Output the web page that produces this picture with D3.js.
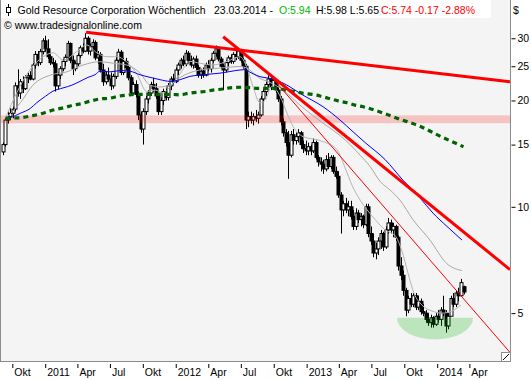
<!DOCTYPE html>
<html><head><meta charset="utf-8">
<script src="https://cdn.jsdelivr.net/npm/d3@7"></script>
<style>body{margin:0;background:#fff}svg{display:block}</style>
</head><body><svg id="c" width="531" height="380"></svg>
<script>
// ---- DATA ----
const firstWeek = "2010-09-06";
const opens = [14.3,15.0,17.6,18.0,18.4,18.9,22.0,21.0,22.6,21.6,23.2,23.5,23.0,25.2,27.0,25.6,27.5,29.5,28.0,26.6,
25.6,25.4,22.0,23.6,24.6,25.8,26.5,29.0,26.0,24.6,25.4,26.8,28.2,27.6,30.0,27.6,28.4,29.2,26.4,27.0,
24.4,22.6,23.6,23.0,22.0,23.4,26.0,27.4,24.0,25.8,24.8,23.2,21.0,22.2,20.8,18.2,16.6,18.6,20.2,21.0,
22.2,21.6,20.6,18.6,20.0,21.2,20.4,22.0,23.0,22.6,24.4,25.2,26.0,25.4,27.2,26.0,25.2,26.2,24.8,23.6,
24.2,23.6,25.2,24.6,26.0,27.2,28.0,26.2,25.0,24.4,25.6,26.4,25.8,27.0,26.6,27.6,26.0,25.0,17.6,18.0,
17.6,18.0,17.8,18.2,20.2,21.2,22.2,23.0,21.8,22.8,21.4,20.2,17.4,16.2,15.2,14.0,16.0,15.4,15.8,16.2,
15.0,14.6,14.4,14.8,14.4,15.2,13.8,13.4,13.2,12.8,13.6,13.0,13.8,12.6,12.2,10.8,9.8,10.2,9.8,10.0,
9.4,8.8,9.6,9.2,9.4,8.9,10.0,8.4,8.0,7.4,7.6,8.0,8.4,7.7,8.6,9.0,8.6,8.8,8.2,6.8,
6.4,5.8,5.1,5.5,5.3,5.6,5.2,5.4,5.05,5.0,4.8,4.7,4.85,4.65,4.9,4.8,5.1,5.0,4.6,4.9,
5.5,5.3,5.7,5.6,5.94];
const highs = [15.2,17.8,18.6,19.0,19.2,22.5,24.5,23.0,23.4,23.6,24.0,24.2,25.5,27.6,27.6,28.0,30.0,30.5,29.8,27.0,
26.4,26.0,24.0,25.0,26.2,27.0,29.5,29.2,26.8,25.8,27.2,28.6,29.0,31.0,30.4,29.0,29.8,29.6,27.6,27.4,
25.4,24.2,24.8,24.0,23.8,26.6,28.0,27.8,26.4,26.4,25.2,23.6,22.6,22.8,21.2,18.6,19.0,20.6,21.4,22.6,
23.2,22.4,21.0,20.4,21.6,21.6,22.4,23.4,23.8,24.8,25.6,26.4,26.8,27.8,27.6,26.8,26.6,26.8,25.2,24.6,
24.8,25.6,26.0,26.4,27.6,28.6,28.4,26.6,25.4,26.0,26.8,27.0,27.4,27.6,28.2,28.0,26.4,25.4,18.6,18.6,
18.4,18.8,18.6,20.6,21.6,22.6,23.6,23.4,23.2,23.0,21.8,20.6,17.8,16.6,16.4,16.4,16.6,16.2,16.6,16.4,
15.4,15.4,15.2,15.0,15.6,15.4,14.0,13.8,13.6,14.0,14.2,14.0,14.0,13.0,12.6,11.0,10.4,10.6,10.4,10.4,
9.8,9.9,9.8,9.6,9.5,10.2,10.2,8.8,8.4,7.9,8.2,8.6,8.5,8.8,9.3,9.2,9.0,8.9,8.3,7.2,
6.6,5.9,5.6,5.7,5.7,5.7,5.6,5.5,5.3,5.1,5.0,4.95,4.9,5.0,5.1,5.2,5.6,5.1,5.0,5.6,
5.7,5.8,5.9,6.25,5.98];
const lows = [14.0,14.8,17.2,17.6,17.8,18.6,20.5,20.2,21.0,21.4,22.4,22.8,22.8,24.6,25.0,25.2,27.0,27.5,26.2,25.2,
24.8,21.2,21.5,23.0,24.2,25.0,26.2,25.5,23.6,24.2,25.0,26.4,27.2,27.4,27.0,26.8,27.6,26.0,25.4,24.0,
22.0,22.2,22.6,21.4,21.6,23.0,25.6,23.6,23.6,24.4,22.8,20.6,20.8,20.4,17.6,16.2,15.0,18.2,19.6,20.6,
21.2,20.2,18.2,18.2,19.4,20.0,20.0,21.4,22.2,22.4,23.6,24.6,25.0,25.0,25.6,24.8,24.6,24.4,23.2,23.0,
23.2,23.4,24.2,24.0,25.6,26.6,25.8,24.6,21.4,24.0,25.0,25.4,25.4,26.0,26.2,25.6,24.6,16.6,16.8,17.2,
17.0,17.4,17.2,18.0,19.8,20.6,21.8,21.4,21.4,21.0,19.8,17.0,15.8,14.8,12.0,13.8,15.0,15.0,15.2,14.6,
14.2,14.0,14.0,14.0,14.2,13.6,13.0,12.6,12.4,12.6,12.8,12.8,12.4,12.0,10.6,8.4,9.4,9.6,9.4,9.2,
8.6,8.6,9.0,8.8,8.7,8.8,8.2,7.8,7.2,7.1,7.3,7.6,7.5,7.6,8.4,8.4,8.2,8.0,6.6,6.2,
5.6,4.9,5.0,5.2,5.2,5.1,5.1,4.95,4.9,4.7,4.6,4.55,4.55,4.6,4.7,4.6,4.9,4.4,4.5,4.9,
5.2,5.2,5.4,5.6,5.65];
const closes = [15.0,17.6,18.0,18.4,18.9,22.0,21.0,22.6,21.6,23.2,23.5,23.0,25.2,27.0,25.6,27.5,29.5,28.0,26.6,25.6,
25.4,22.0,23.6,24.6,25.8,26.5,29.0,26.0,24.6,25.4,26.8,28.2,27.6,30.0,27.6,28.4,29.2,26.4,27.0,24.4,
22.6,23.6,23.0,22.0,23.4,26.0,27.4,24.0,25.8,24.8,23.2,21.0,22.2,20.8,18.2,16.6,18.6,20.2,21.0,22.2,
21.6,20.6,18.6,20.0,21.2,20.4,22.0,23.0,22.6,24.4,25.2,26.0,25.4,27.2,26.0,25.2,26.2,24.8,23.6,24.2,
23.6,25.2,24.6,26.0,27.2,28.0,26.2,25.0,24.4,25.6,26.4,25.8,27.0,26.6,27.6,26.0,25.0,17.6,18.0,17.6,
18.0,17.8,18.2,20.2,21.2,22.2,23.0,21.8,22.8,21.4,20.2,17.4,16.2,15.2,14.0,16.0,15.4,15.8,16.2,15.0,
14.6,14.4,14.8,14.4,15.2,13.8,13.4,13.2,12.8,13.6,13.0,13.8,12.6,12.2,10.8,9.8,10.2,9.8,10.0,9.4,
8.8,9.6,9.2,9.4,8.9,10.0,8.4,8.0,7.4,7.6,8.0,8.4,7.7,8.6,9.0,8.6,8.8,8.2,6.8,6.4,
5.8,5.1,5.5,5.3,5.6,5.2,5.4,5.05,5.0,4.8,4.7,4.85,4.65,4.9,4.8,5.1,5.0,4.6,4.9,5.5,
5.3,5.7,5.6,6.1,5.74];

// moving averages: [week index, price]
const fastAvg = [[1,17.8],[5.5,21.0],[10.8,24.4],[16.1,26.6],[20.1,27.3],[24.1,26.0],[29.5,27.5],[33.5,28.7],[37.5,27.3],[41.5,26.6],[45.5,26.6],[49.5,25.7],[53.5,23.8],[57.5,21.2],[60.8,21.4],[64.1,21.0],[66.8,21.9],[70.8,23.8],[74.7,25.8],[78.7,25.5],[83.9,25.2],[90.7,26.0],[94.7,26.6],[97.4,24.9],[99.9,21.9],[102.7,19.7],[104.7,20.0],[107.4,21.9],[110.7,20.6],[113.5,18.4],[115.9,16.9],[119.9,15.8],[126.7,15.4],[133.5,14.5],[136.7,12.9],[139.5,11.5],[142.7,10.45],[145.5,9.8],[148.7,9.2],[152.7,8.6],[156.6,8.3],[159.4,7.5],[161.8,6.5],[164.2,5.7],[167.4,5.27],[171.4,5.07],[175.4,5.0],[179.4,5.07],[183,5.27]];
const slowAvg = [[1,17.8],[7,19.7],[12,22.1],[19,23.6],[25.5,24.1],[32,25.2],[38.8,25.75],[44,25.5],[49.5,25.2],[54.8,23.9],[58.8,22.1],[62.8,21.85],[66.8,22.1],[70.7,23.2],[78.7,24.4],[86.7,24.7],[94.7,24.95],[97.4,24.7],[102.7,23.1],[106.7,22.5],[110.7,21.7],[114.7,20.6],[118.7,19.4],[122.7,18.4],[126.7,17.5],[130.7,16.7],[134.7,15.9],[138.7,15.0],[142.7,14.0],[146.7,13.0],[150.7,11.8],[154.7,11.15],[158.6,10.45],[163.8,9.2],[170.6,8.05],[177.4,6.9],[183.4,6.6]];
const blueAvg = [[1,17.8],[3,17.9],[7,18.4],[11,19.0],[13.5,19.7],[17,20.55],[20,21.25],[24,21.7],[27.6,22.1],[30.8,22.65],[34,23.25],[36.8,23.65],[38.8,24.2],[42.8,24.1],[46.8,24.3],[50.8,24.2],[54.8,23.65],[58.8,23.25],[62.8,22.9],[66.8,22.65],[70.8,22.9],[74.7,23.4],[78.7,23.6],[82.7,23.75],[86.7,23.9],[90.7,24.15],[94.7,24.4],[96.7,24.45],[98.7,24.05],[102.7,23.35],[106.7,23.1],[111.9,22.4],[119.9,20.7],[127.9,19.2],[134.7,17.6],[139.9,16.3],[144.7,15.2],[152.7,13.6],[159.8,11.9],[166.6,10.6],[171.8,9.6],[177.4,8.8],[183.4,8.05]];
const greenAvg = [[1,17.8],[4.8,17.84],[8,17.9],[11.6,18.1],[14.8,18.3],[18,18.6],[21.6,18.9],[24.8,19.1],[28,19.4],[31.6,19.6],[34.8,19.9],[38.8,20.2],[42.8,20.3],[46,20.55],[49.6,20.7],[52.8,20.8],[60,20.8],[67.6,20.8],[70.8,20.75],[74,20.95],[77.5,21.1],[80.7,21.2],[83.9,21.4],[87.9,21.55],[91.5,21.75],[95.5,21.8],[98.7,21.75],[101.9,21.65],[105.5,21.65],[109.5,21.65],[112.7,21.4],[116.7,21.2],[119.9,20.95],[123.5,20.8],[126.7,20.6],[129.9,20.3],[133.9,19.95],[137.5,19.7],[140.7,19.4],[143.9,19.2],[150.7,18.55],[158.6,17.7],[166.6,16.9],[174.6,15.85],[184,14.8]];

// drawn trend lines: [date, price] endpoints
const trendLines = [
  {from:["2011-04-27",31.2], to:["2014-07-25",22.6], w:3},
  {from:["2012-05-14",30.3], to:["2014-07-25",6.64], w:3},
  {from:["2012-09-17",23.9], to:["2014-07-25",3.87], w:1}
];
const supportBand = [17.25, 18.15];
const bowl = {from:"2013-09-12", to:"2014-04-13", top:4.85, bottom:4.21};

const yTicks = [5,10,15,20,25,30];
const xTickDates = ["2010-10-01","2011-01-01","2011-04-01","2011-07-01","2011-10-01","2012-01-01","2012-04-01","2012-07-01","2012-10-01","2013-01-01","2013-04-01","2013-07-01","2013-10-01","2014-01-01","2014-04-01"];
const xTickLabels = ["Okt","2011","Apr","Jul","Okt","2012","Apr","Jul","Okt","2013","Apr","Jul","Okt","2014","Apr"];

const titleParts = [
  {t:"Gold Resource Corporation Wöchentlich", x:17.6, c:"#000"},
  {t:"23.03.2014 -", x:214, c:"#000"},
  {t:"O:5.94", x:279, c:"#00b800"},
  {t:"H:5.98 L:5.65", x:316, c:"#000"},
  {t:"C:5.74 -0.17 -2.88%", x:381, c:"#ff0000"}
];

// ---- CHART ----
const FONT = "'Liberation Sans', Arial, sans-serif";
const parse = d3.timeParse("%Y-%m-%d");
const PR = 510, PB = 361;
const svg = d3.select("#c");
const x = d3.scaleTime().domain([new Date(2010,7,29), new Date(2014,6,25)]).range([0, PR]);
const y = d3.scaleLog().domain([3.66, 38.5]).range([PB, 0]);
const t0 = parse(firstWeek).getTime();
const wk = i => new Date(t0 + i*7*864e5);

svg.append("defs").append("clipPath").attr("id","clip")
  .append("rect").attr("x",0).attr("y",0).attr("width",PR).attr("height",PB);

svg.append("rect").attr("x",0).attr("y",0).attr("width",PR).attr("height",PB).attr("fill","#f4f4f4");

const g = svg.append("g").attr("clip-path","url(#clip)");

// candles
const cg = g.append("g");
closes.forEach((c,i) => {
  const px = Math.round(x(wk(i)));
  const o = opens[i], h = highs[i], l = lows[i];
  cg.append("line").attr("x1",px+0.5).attr("x2",px+0.5)
    .attr("y1",y(h)).attr("y2",y(l)).attr("stroke","#000").attr("stroke-width",1);
  const top = y(Math.max(o,c)), bot = y(Math.min(o,c));
  cg.append("rect").attr("x",px-1).attr("width",3)
    .attr("y",top).attr("height",Math.max(1,bot-top))
    .attr("fill", c>=o ? "#fff" : "#000").attr("stroke","#000").attr("stroke-width",1);
});

// support band
g.append("rect").attr("x",0).attr("width",PR)
  .attr("y",y(supportBand[1])).attr("height",y(supportBand[0])-y(supportBand[1]))
  .attr("fill","#ff0000").attr("fill-opacity",0.2);

// moving averages
const line = d3.line().x(d=>x(wk(d[0]))).y(d=>y(d[1])).curve(d3.curveMonotoneX);
g.append("path").attr("d",line(slowAvg)).attr("fill","none").attr("stroke","#a8a8a8").attr("stroke-width",1);
g.append("path").attr("d",line(fastAvg)).attr("fill","none").attr("stroke","#b4b4b4").attr("stroke-width",1);
g.append("path").attr("d",line(blueAvg)).attr("fill","none").attr("stroke","#0000ff").attr("stroke-width",1);
g.append("path").attr("d",line(greenAvg)).attr("fill","none").attr("stroke","#006400")
  .attr("stroke-width",3.2).attr("stroke-dasharray","5,4");

// trend lines
trendLines.forEach(tl => {
  g.append("line")
    .attr("x1",x(parse(tl.from[0]))).attr("y1",y(tl.from[1]))
    .attr("x2",x(parse(tl.to[0]))).attr("y2",y(tl.to[1]))
    .attr("stroke","#ff0000").attr("stroke-width",tl.w);
});

// bowl (lower half ellipse)
{
  const x0 = x(parse(bowl.from)), x1 = x(parse(bowl.to));
  const yt = y(bowl.top), yb = y(bowl.bottom);
  const rx = (x1-x0)/2, ry = yb-yt;
  g.append("path")
    .attr("d", `M${x0},${yt} A${rx},${ry} 0 0 0 ${x1},${yt} Z`)
    .attr("fill","#00b400").attr("fill-opacity",0.225);
}

// title box
svg.append("rect").attr("x",0).attr("y",0).attr("width",491).attr("height",18).attr("fill","#fff");
svg.append("line").attr("x1",8.5).attr("x2",8.5).attr("y1",4).attr("y2",16).attr("stroke","#000");
svg.append("rect").attr("x",6.5).attr("y",7.5).attr("width",4).attr("height",5).attr("fill","#fff").attr("stroke","#000");
titleParts.forEach(p => {
  svg.append("text").attr("x",p.x).attr("y",14).attr("fill",p.c)
    .attr("font-family",FONT).attr("font-size","10.5px").text(p.t);
});
svg.append("text").attr("x",4).attr("y",29).attr("fill","#000")
  .attr("font-family",FONT).attr("font-size","10.5px").text("© www.tradesignalonline.com");

// frame
svg.append("rect").attr("x",0.5).attr("y",-1).attr("width",PR).attr("height",PB+1.5)
  .attr("fill","none").attr("stroke","#8c8c8c");
// resize grip
svg.append("rect").attr("x",501.5).attr("y",352.5).attr("width",9).attr("height",9).attr("fill","#fff").attr("stroke","#8c8c8c");
svg.append("line").attr("x1",503).attr("y1",360).attr("x2",509).attr("y2",354).attr("stroke","#000");

// axes
const xa = svg.append("g").attr("transform",`translate(0,${PB+3})`)
  .call(d3.axisBottom(x).tickValues(xTickDates.map(parse)).tickFormat((d,i)=>xTickLabels[i]).tickSize(4));
xa.select(".domain").remove();
xa.selectAll(".tick line").attr("stroke","#000").attr("transform","translate(0.5,0)");
xa.selectAll(".tick text").attr("text-anchor","start").attr("x",2).attr("y",5)
  .attr("font-family",FONT).attr("font-size","10.5px").attr("fill","#000");

const ya = svg.append("g").attr("transform",`translate(${PR+1.5},0)`)
  .call(d3.axisRight(y).tickValues(yTicks).tickFormat(d3.format("d")).tickSize(4).tickPadding(2));
ya.select(".domain").remove();
ya.selectAll(".tick line").attr("stroke","#000");
ya.selectAll(".tick text").attr("font-family",FONT).attr("font-size","10.5px").attr("fill","#000");
svg.append("text").attr("x",513).attr("y",14).attr("font-family",FONT).attr("font-size","10.5px")
  .attr("fill","#000").text("$");
</script></body></html>
